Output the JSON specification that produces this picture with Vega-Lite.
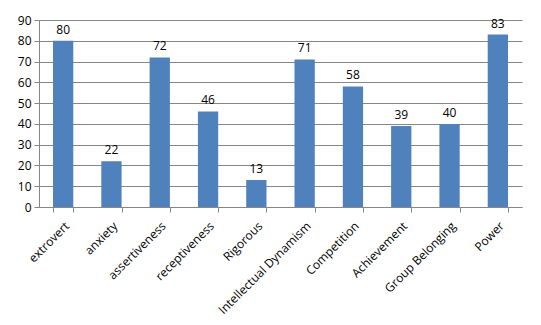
{
  "$schema": "https://vega.github.io/schema/vega-lite/v6.json",
  "autosize": {"type": "none"},
  "padding": {"left": 39, "top": 20, "right": 19, "bottom": 118},
  "width": 483,
  "height": 187,
  "background": "white",
  "config": {
    "font": "Open Sans",
    "view": {"stroke": null}
  },
  "data": {
    "values": [
      {"trait": "extrovert", "value": 80},
      {"trait": "anxiety", "value": 22},
      {"trait": "assertiveness", "value": 72},
      {"trait": "receptiveness", "value": 46},
      {"trait": "Rigorous", "value": 13},
      {"trait": "Intellectual Dynamism", "value": 71},
      {"trait": "Competition", "value": 58},
      {"trait": "Achievement", "value": 39},
      {"trait": "Group Belonging", "value": 40},
      {"trait": "Power", "value": 83}
    ]
  },
  "encoding": {
    "x": {
      "field": "trait",
      "type": "nominal",
      "sort": null,
      "scale": {"paddingInner": 0.58, "paddingOuter": 0.29},
      "axis": {
        "title": null,
        "labelAngle": -45,
        "labelAlign": "right",
        "labelBaseline": "top",
        "labelFont": "Open Sans",
        "labelFontSize": 12,
        "labelColor": "#000000",
        "labelPadding": 8,
        "tickBand": "extent",
        "tickColor": "#868686",
        "tickSize": 5,
        "domainColor": "#868686",
        "grid": false
      }
    },
    "y": {
      "field": "value",
      "type": "quantitative",
      "scale": {"domain": [0, 90], "nice": false},
      "axis": {
        "title": null,
        "values": [0, 10, 20, 30, 40, 50, 60, 70, 80, 90],
        "labelFont": "Open Sans",
        "labelFontSize": 12,
        "labelColor": "#000000",
        "labelPadding": 3,
        "tickColor": "#868686",
        "tickSize": 5,
        "domainColor": "#868686",
        "gridColor": "#868686",
        "gridWidth": 1
      }
    }
  },
  "layer": [
    {"mark": {"type": "bar", "color": "#4F81BD"}},
    {
      "mark": {"type": "text", "baseline": "bottom", "dy": -4, "fontSize": 12, "color": "#000000", "font": "Open Sans"},
      "encoding": {"text": {"field": "value", "type": "quantitative"}}
    }
  ]
}
